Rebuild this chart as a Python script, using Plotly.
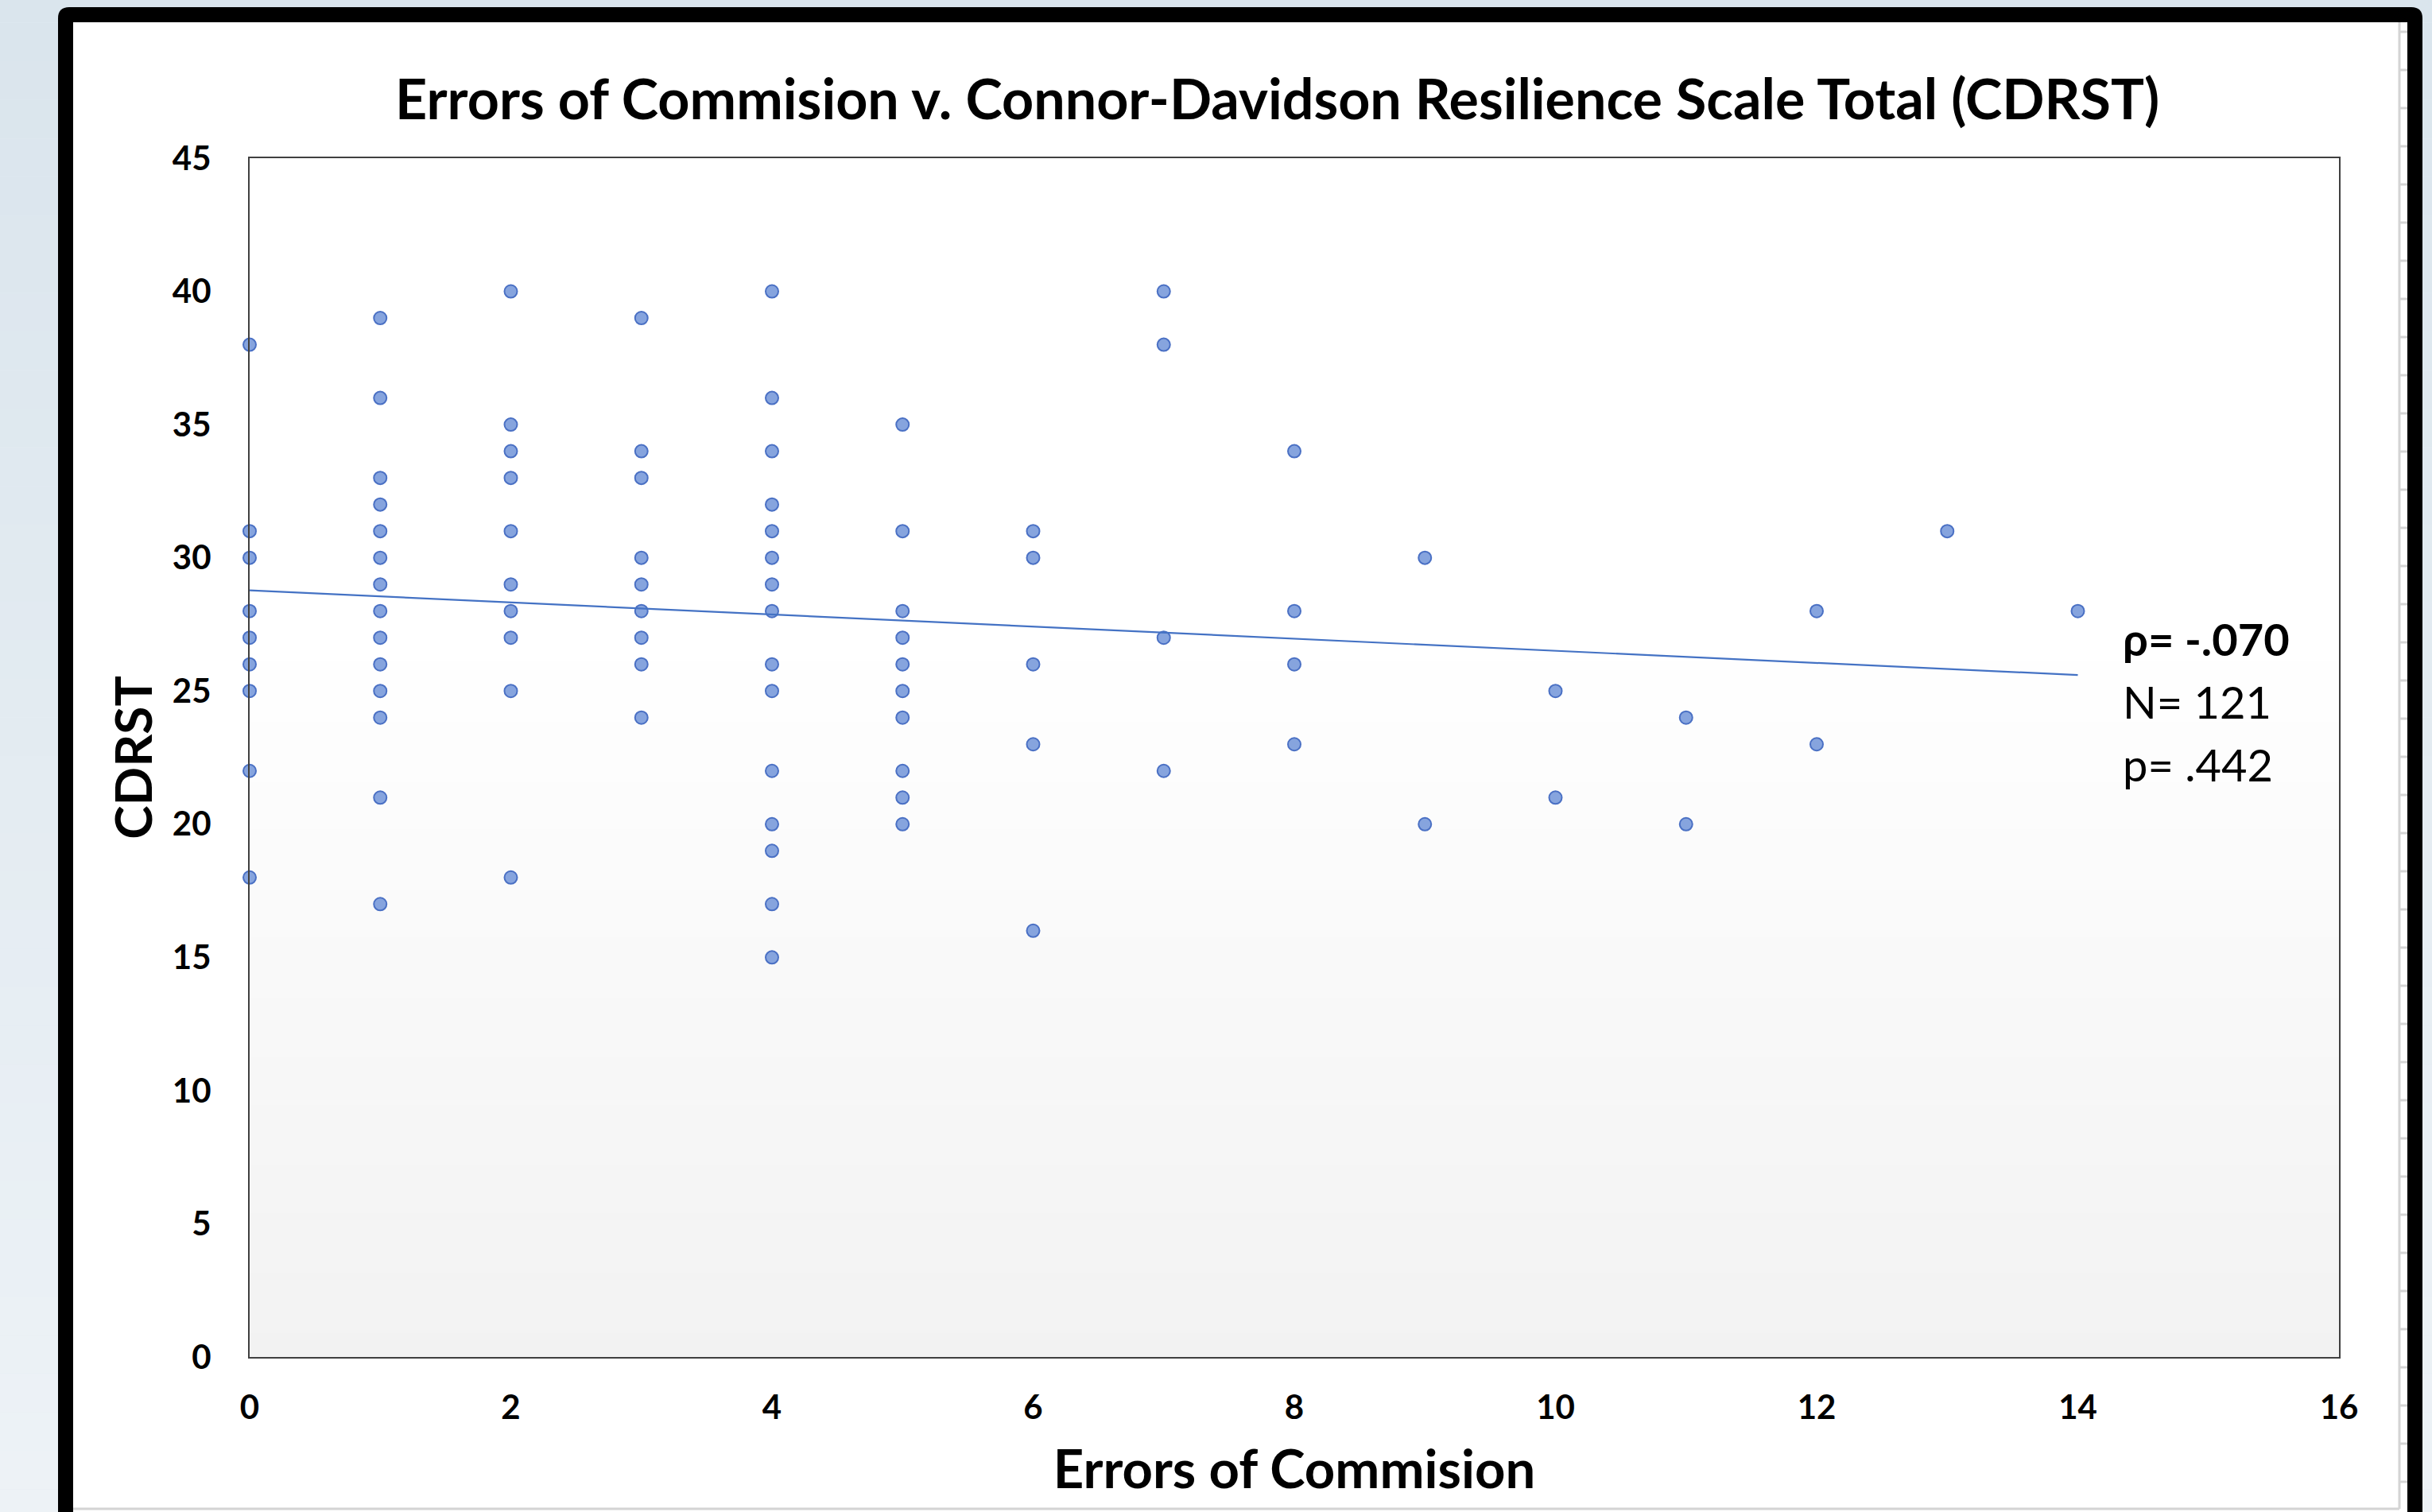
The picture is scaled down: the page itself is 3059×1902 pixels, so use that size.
import plotly.graph_objects as go

# ---------------- data ----------------
error_levels = [0, 1, 2, 3, 4, 5, 6, 7, 8, 9, 10, 11, 12, 13, 14]
cdrst_at_level = [
    [38, 31, 30, 28, 27, 26, 25, 22, 18],
    [39, 36, 33, 32, 31, 30, 29, 28, 27, 26, 25, 24, 21, 17],
    [40, 35, 34, 33, 31, 29, 28, 27, 25, 18],
    [39, 34, 33, 30, 29, 28, 27, 26, 24],
    [40, 36, 34, 32, 31, 30, 29, 28, 26, 25, 22, 20, 19, 17, 15],
    [35, 31, 28, 27, 26, 25, 24, 22, 21, 20],
    [31, 30, 26, 23, 16],
    [40, 38, 27, 22],
    [34, 28, 26, 23],
    [30, 20],
    [25, 21],
    [24, 20],
    [28, 23],
    [31],
    [28],
]
trend_x = [0, 14]
trend_y = [28.78, 25.6]

x_ticks = [0, 2, 4, 6, 8, 10, 12, 14, 16]
y_ticks = [0, 5, 10, 15, 20, 25, 30, 35, 40, 45]

title_text = "Errors of Commision v. Connor-Davidson Resilience Scale Total (CDRST)"
x_title = "Errors of Commision"
y_title = "CDRST"
stat_lines = ["<b>\u03c1= -.070</b>", "N= 121", "p= .442"]

errors = []
cdrst = []
for lvl, vals in zip(error_levels, cdrst_at_level):
    for v in vals:
        errors.append(lvl)
        cdrst.append(v)

# ---------------- layout geometry (pixels) ----------------
W, H = 3059, 1902
L, R, T, B = 314, 2942, 199, 1707


def px(x):
    return (x - L) / (R - L)


def py(y):
    return (B - y) / (B - T)


FONT = "Lato"
SLIDE_BG = "#e4ecf2"

fig = go.Figure()

fig.add_trace(go.Scatter(
    x=errors, y=cdrst, mode="markers",
    marker=dict(size=16, color="#86a4de", line=dict(color="#4a70c4", width=2)),
    cliponaxis=False, showlegend=False, name="CDRST",
))
fig.add_trace(go.Scatter(
    x=trend_x, y=trend_y, mode="lines",
    line=dict(color="#4472c4", width=2.2),
    showlegend=False, name="Trend",
))

shapes = []


def rect(x0, y0, x1, y1, color, line_color=None, lw=0):
    return dict(type="rect", xref="paper", yref="paper", layer="below",
                x0=px(x0), x1=px(x1), y0=py(y0), y1=py(y1),
                fillcolor=color,
                line=dict(width=lw, color=line_color or color))


# outside background gradient (slide background)
nb = 40
for i in range(nb):
    y0 = -20 + i * (H + 40) / nb
    y1 = -20 + (i + 1) * (H + 40) / nb
    t = (i + 0.5) / nb
    r = int(218 + (238 - 218) * t)
    g = int(229 + (243 - 229) * t)
    b = int(237 + (247 - 237) * t)
    c = f"rgb({r},{g},{b})"
    shapes.append(rect(-20, y0, W + 20, y1, c))

# black frame with rounded top corners
fx0, fx1, fy0, fy1, rr = 73, 3047, 9, 1990, 14
path = (f"M {px(fx0)},{py(fy1)} L {px(fx0)},{py(fy0 + rr)} "
        f"Q {px(fx0)},{py(fy0)} {px(fx0 + rr)},{py(fy0)} "
        f"L {px(fx1 - rr)},{py(fy0)} Q {px(fx1)},{py(fy0)} {px(fx1)},{py(fy0 + rr)} "
        f"L {px(fx1)},{py(fy1)} Z")
shapes.append(dict(type="path", xref="paper", yref="paper", layer="below",
                   path=path, fillcolor="black", line=dict(width=0)))
# white panel
shapes.append(rect(92, 28, 3028, 1990, "white"))
# panel bottom line and ruler
shapes.append(dict(type="line", xref="paper", yref="paper", layer="below",
                   x0=px(92), x1=px(3018), y0=py(1898), y1=py(1898),
                   line=dict(color="#d4d4d4", width=3)))
shapes.append(dict(type="line", xref="paper", yref="paper", layer="below",
                   x0=px(3018), x1=px(3018), y0=py(28), y1=py(1898),
                   line=dict(color="#d4d4d4", width=3)))
ty = 40
while ty < 1898:
    shapes.append(dict(type="line", xref="paper", yref="paper", layer="below",
                       x0=px(3018), x1=px(3028), y0=py(ty), y1=py(ty),
                       line=dict(color="#d4d4d4", width=3)))
    ty += 48

# plot area gradient (white at top to light grey at bottom)
ng = 60
top_frac = 0.6
for i in range(ng):
    f0 = top_frac * i / ng
    f1 = top_frac * (i + 1) / ng
    t = (i + 0.5) / ng
    v = int(round(242 + (255 - 242) * t))
    shapes.append(dict(type="rect", xref="paper", yref="paper", layer="below",
                       x0=0, x1=1, y0=f0, y1=f1 + 0.001,
                       fillcolor=f"rgb({v},{v},{v})", line=dict(width=0)))

annotations = [
    dict(text=f"<b>{title_text}</b>", xref="paper", yref="paper",
         x=px(1606), y=py(123), xanchor="center", yanchor="middle",
         showarrow=False, font=dict(family=FONT, size=70, color="black")),
]
stat_y = [26.95, 24.6, 22.25]
for txt, yv in zip(stat_lines, stat_y):
    annotations.append(dict(text=txt, xref="x", yref="y", x=14.33, y=yv,
                            xanchor="left", yanchor="middle", showarrow=False,
                            font=dict(family=FONT, size=56, color="black")))

fig.update_layout(
    width=W, height=H,
    margin=dict(l=L, r=W - R, t=T, b=H - B, autoexpand=False),
    paper_bgcolor=SLIDE_BG,
    plot_bgcolor="white",
    shapes=shapes,
    annotations=annotations,
    showlegend=False,
    font=dict(family=FONT, color="black"),
)
fig.update_xaxes(
    range=[0, 16], tickvals=x_ticks, ticks="", showgrid=False, zeroline=False,
    showline=True, mirror=True, linecolor="#404040", linewidth=2,
    tickfont=dict(family=FONT, size=42, color="black", weight="bold"),
    ticklabelstandoff=26,
    title=dict(text=x_title, standoff=32,
               font=dict(family=FONT, size=67, color="black", weight="bold")),
)
fig.update_yaxes(
    range=[0, 45], tickvals=y_ticks, ticks="", showgrid=False, zeroline=False,
    showline=True, mirror=True, linecolor="#404040", linewidth=2,
    tickfont=dict(family=FONT, size=42, color="black", weight="bold"),
    ticklabelstandoff=38,
    title=dict(text=y_title, standoff=4,
               font=dict(family=FONT, size=64, color="black", weight="bold")),
)

fig.write_html(
    "out.html",
    config=dict(displayModeBar=False),
    post_script=("document.body.style.margin='0';"
                 "document.body.style.padding='0';"
                 "document.body.style.overflow='hidden';"
                 f"document.body.style.background='{SLIDE_BG}';"),
)
